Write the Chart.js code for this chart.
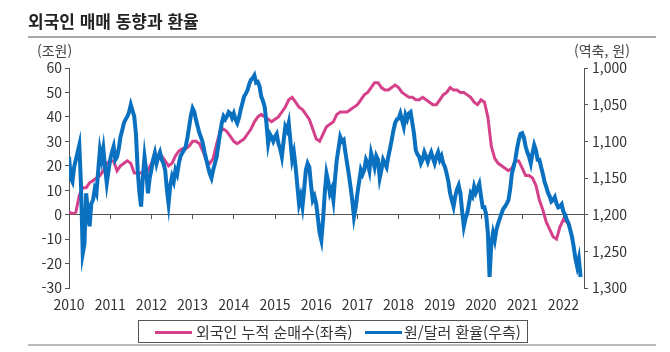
<!DOCTYPE html>
<html lang="ko">
<head>
<meta charset="utf-8">
<script src="https://cdn.jsdelivr.net/npm/chart.js@4.4.1/dist/chart.umd.min.js"></script>
<style>
  body { margin: 0; background: #fff; font-family: 'Noto Sans CJK KR', 'Noto Sans', sans-serif; color: #333; }
  #wrap { position: relative; width: 670px; height: 352px; overflow: hidden; }
  #chart { position: absolute; left: 0; top: 0; }
  .title { position: absolute; left: 28px; top: 8px; font-size: 17px; font-weight: bold; color: #222; }
  .rule { position: absolute; left: 28px; width: 628px; height: 2px; background: #a8a8a8; }
  .unit { position: absolute; top: 40px; font-size: 14px; color: #444; }
  .legend { position: absolute; left: 138px; top: 320px; width: 388px; height: 21px; border: 1px solid #555; font-size: 15px; color: #333; }
  .legend span { position: absolute; top: 0; line-height: 21px; white-space: nowrap; }
  .legend i { position: absolute; top: 10px; width: 37px; height: 3px; }
</style>
</head>
<body>
<div id="wrap">
  <canvas id="chart" width="670" height="352"></canvas>
  <div class="title">외국인 매매 동향과 환율</div>
  <div class="rule" style="top:36px"></div>
  <div class="unit" style="left:37px">(조원)</div>
  <div class="unit" style="left:574px">(역축, 원)</div>
  <div class="legend">
    <i style="left:16px;background:#d5408b"></i><span style="left:57px">외국인 누적 순매수(좌측)</span>
    <i style="left:226px;background:#0a70c0"></i><span style="left:265px">원/달러 환율(우측)</span>
  </div>
  <div class="rule" style="top:344px;background:#bbb"></div>
</div>
<script>
const startYear = 2010;
const years = [2010, 2011, 2012, 2013, 2014, 2015, 2016, 2017, 2018, 2019, 2020, 2021, 2022];

// 외국인 누적 순매수 (조원, left axis) - monthly from Jan 2010
const foreignNetBuy = [
  1, 0.5, 1, 8, 11, 11, 13, 14, 15, 16, 18, 21,
  22, 22, 18, 20, 21, 22, 21, 17, 17, 17, 17, 18,
  21, 24, 24, 24, 22, 20, 21, 24, 26, 27, 27, 28,
  30, 30, 29, 26, 22, 21, 23, 29, 34, 35, 34, 32,
  30, 29, 30, 31, 33, 35, 38, 40, 41, 40, 39, 38,
  39, 40, 42, 44, 47, 48, 46, 44, 43, 41, 39, 35,
  31, 30, 33, 36, 37, 38, 41, 42, 42, 42, 43, 44,
  45, 47, 49, 50, 52, 54, 54, 52, 51, 51, 52, 53,
  52, 50, 49, 48, 48, 47, 47, 48, 47, 46, 45, 45,
  47, 49, 50, 52, 51, 51, 50, 50, 49, 48, 46, 45,
  47, 46, 40, 28, 23, 21, 20, 19, 18, 19, 22, 22,
  19, 16, 16, 15, 12, 6, 2, -3, -6, -9, -10, -5,
  -2, -3, -5
];

// 원/달러 환율 (원, right axis, reversed) - twice a month from Jan 2010
const usdKrw = [
  1121, 1150, 1155, 1135, 1125, 1115, 1105, 1160, 1253, 1240, 1171, 1195,
  1216, 1185, 1180, 1165, 1171, 1140, 1112, 1125, 1110, 1135, 1157, 1140,
  1125, 1115, 1107, 1125, 1121, 1110, 1094, 1085, 1075, 1070, 1066, 1060,
  1050, 1058, 1066, 1090, 1139, 1170, 1189, 1150, 1121, 1140, 1171, 1150,
  1139, 1125, 1116, 1130, 1121, 1115, 1125, 1130, 1139, 1165, 1185, 1160,
  1148, 1155, 1139, 1145, 1130, 1120, 1116, 1112, 1107, 1095, 1080, 1065,
  1055, 1060, 1071, 1080, 1089, 1095, 1103, 1115, 1125, 1135, 1144, 1150,
  1139, 1130, 1121, 1105, 1089, 1075, 1066, 1070, 1066, 1060, 1062, 1068,
  1062, 1070, 1075, 1068, 1057, 1048, 1039, 1035, 1030, 1022, 1016, 1014,
  1010, 1020, 1019, 1025, 1039, 1045, 1053, 1075, 1103, 1090, 1094, 1100,
  1094, 1090, 1103, 1110, 1121, 1100, 1080, 1085, 1075, 1100, 1125, 1115,
  1135, 1160, 1185, 1175, 1189, 1165, 1139, 1130, 1135, 1160, 1180, 1175,
  1185, 1205, 1225, 1235, 1207, 1170, 1144, 1155, 1171, 1165, 1180, 1150,
  1125, 1110, 1094, 1100, 1098, 1115, 1130, 1145, 1162, 1180, 1203, 1190,
  1171, 1155, 1139, 1145, 1139, 1125, 1130, 1140, 1116, 1125, 1135, 1120,
  1125, 1150, 1139, 1125, 1130, 1135, 1121, 1110, 1098, 1085, 1075, 1070,
  1069, 1062, 1071, 1080, 1064, 1070, 1062, 1060, 1075, 1090, 1112, 1118,
  1121, 1130, 1125, 1115, 1121, 1128, 1121, 1115, 1123, 1130, 1121, 1115,
  1125, 1120, 1130, 1135, 1144, 1155, 1171, 1180, 1189, 1175, 1166, 1160,
  1171, 1195, 1216, 1205, 1198, 1185, 1171, 1175, 1162, 1170, 1164, 1158,
  1175, 1190, 1190, 1200, 1225, 1285, 1240, 1225, 1235, 1220, 1212, 1205,
  1198, 1192, 1189, 1185, 1180, 1165, 1144, 1135, 1125, 1110, 1098, 1090,
  1089, 1095, 1107, 1115, 1121, 1130, 1116, 1105, 1112, 1125, 1125, 1135,
  1144, 1155, 1162, 1170, 1175, 1182, 1180, 1176, 1185, 1190, 1189, 1186,
  1196, 1200, 1207, 1212, 1221, 1230, 1244, 1260, 1271, 1260, 1285
];

const toPoints = (arr, perYear) => arr.map((v, i) => ({ x: startYear + i / perYear, y: v }));
const yearTicks = s => { s.ticks = years.map(v => ({ value: v })); };

Chart.defaults.font.family = "'Noto Sans CJK KR', 'Noto Sans', sans-serif";
Chart.defaults.font.size = 14;
Chart.defaults.color = '#333';

new Chart(document.getElementById('chart'), {
  type: 'line',
  data: {
    datasets: [
      {
        label: '외국인 누적 순매수(좌측)',
        data: toPoints(foreignNetBuy, 12),
        yAxisID: 'y',
        borderColor: '#d5408b',
        borderWidth: 3,
        pointRadius: 0,
        tension: 0,
        order: 2
      },
      {
        label: '원/달러 환율(우측)',
        data: toPoints(usdKrw, 24),
        yAxisID: 'y2',
        borderColor: '#0a70c0',
        borderWidth: 4,
        pointRadius: 0,
        tension: 0,
        order: 1
      }
    ]
  },
  options: {
    responsive: false,
    animation: false,
    layout: { padding: { top: 68, left: 0, right: 0, bottom: 40 } },
    plugins: { legend: { display: false }, tooltip: { enabled: false } },
    scales: {
      x: {
        type: 'linear',
        min: 2010,
        max: 2022.5,
        afterBuildTicks: yearTicks,
        afterFit: s => { s.height = 24; },
        grid: { display: false, drawTicks: false },
        border: { display: false },
        ticks: { padding: 8, autoSkip: false, maxRotation: 0, callback: v => String(v) }
      },
      x2: {
        type: 'linear',
        position: { y: 0 },
        min: 2010,
        max: 2022.5,
        afterBuildTicks: yearTicks,
        afterFit: s => { s.height = 0; },
        grid: { drawOnChartArea: false, tickLength: 4, color: '#555' },
        border: { color: '#555', width: 1 },
        ticks: { display: false }
      },
      y: {
        position: 'left',
        min: -30,
        max: 60,
        afterFit: s => { s.width = 69; },
        grid: { drawOnChartArea: false, tickLength: 4, color: '#555' },
        border: { color: '#555' },
        ticks: { stepSize: 10, padding: 3 }
      },
      y2: {
        position: 'right',
        min: 1000,
        max: 1300,
        reverse: true,
        afterFit: s => { s.width = 86; },
        grid: { drawOnChartArea: false, tickLength: 4, color: '#555' },
        border: { color: '#555' },
        ticks: { stepSize: 50, padding: 4, callback: v => v.toLocaleString('en-US') }
      }
    }
  }
});
</script>
</body>
</html>
